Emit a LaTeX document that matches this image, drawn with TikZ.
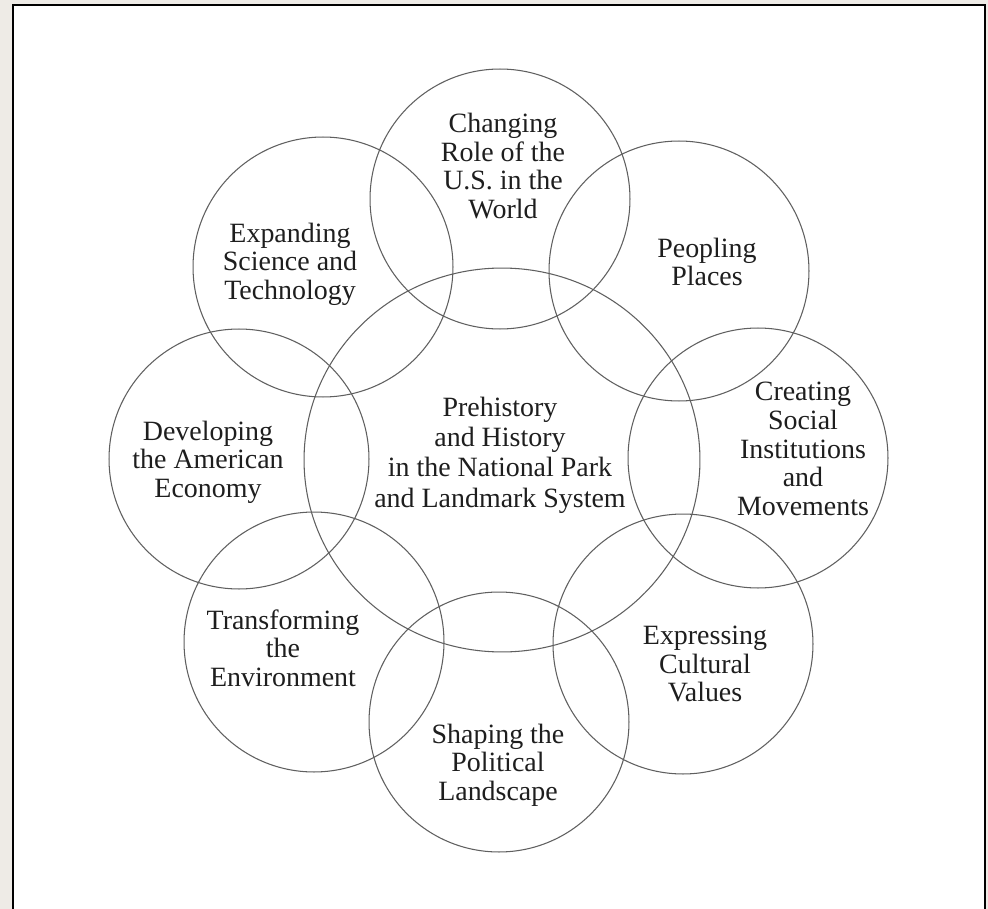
\documentclass[tikz,border=0pt]{standalone}
\usepackage{fontspec}
\setmainfont{Liberation Serif}
\usepackage{xcolor}
\usepackage{tikz}
\usetikzlibrary{shapes.geometric, positioning}
\definecolor{framebeige}{RGB}{238,235,230}
\definecolor{ringgray}{RGB}{95,95,95}
\definecolor{inkdark}{RGB}{30,30,30}

\begin{document}
\begin{tikzpicture}[
    x=0.02cm, y=-0.02cm,
    every node/.style={font=\fontsize{15.9}{16.3}\selectfont, text=inkdark},
    theme/.style={circle, draw=ringgray, line width=0.6pt, minimum size=5.2cm, inner sep=0pt},
    core/.style={ellipse, draw=ringgray, line width=0.6pt, minimum width=7.92cm, minimum height=7.68cm, inner sep=0pt},
    themetext/.style={align=center, inner sep=0pt}
]
\useasboundingbox (0,0) rectangle (988,909);
\fill[framebeige] (0,0) rectangle (988,909);
\draw[line width=1.1pt, fill=white] (13,909) -- (13,5) -- (985,5) -- (985,909);
% rings
\node[core] (core) at (502,460) {};
\node[theme] (world) at (500,199) {};
\node[theme] (peopling) at (679,271) {};
\node[theme] (science) at (323,267) {};
\node[theme] (economy) at (239,459) {};
\node[theme] (social) at (758,458) {};
\node[theme] (environment) at (314,642) {};
\node[theme] (cultural) at (683,644) {};
\node[theme] (political) at (499,722) {};
% texts
\node[themetext, font=\fontsize{15.9}{17.3}\selectfont] (coretext) at (500,455) {Prehistory\\and History\\in the National Park\\and Landmark System};
\node[themetext] (worldtext) at (503,166) {Changing\\Role of the\\U.S. in the\\World};
\node[themetext] (peoplingtext) at (707,262) {Peopling\\Places};
\node[themetext] (sciencetext) at (290,264) {Expanding\\Science and\\Technology};
\node[themetext] (economytext) at (208,462) {Developing\\the American\\Economy};
\node[themetext] (socialtext) at (803,449) {Creating\\Social\\Institutions\\and\\Movements};
\node[themetext] (environmenttext) at (283,648) {Transforming\\the\\Environment};
\node[themetext] (culturaltext) at (705,664) {Expressing\\Cultural\\Values};
\node[themetext] (politicaltext) at (498,765) {Shaping the\\Political\\Landscape};
\end{tikzpicture}
\end{document}
